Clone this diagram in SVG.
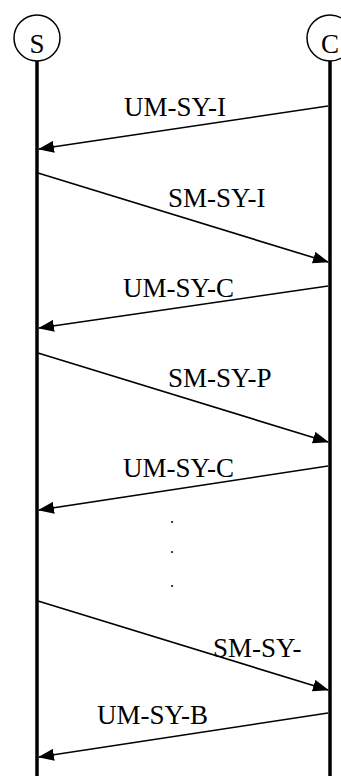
<svg xmlns="http://www.w3.org/2000/svg" width="341" height="776" viewBox="0 0 341 776">
  <style>
    .life { stroke: #000; stroke-width: 3.5; fill: none; }
    .head { fill: #fff; stroke: #000; stroke-width: 1.5; }
    .msg { stroke: #000; stroke-width: 1.6; fill: none; marker-end: url(#arrow); }
    text { font-family: "Liberation Serif", "Times New Roman", serif; fill: #000; }
    .lbl { font-size: 27px; }
    .dot { font-size: 16px; }
  </style>
  <defs>
    <marker id="arrow" markerUnits="userSpaceOnUse" markerWidth="16" markerHeight="12" refX="15" refY="6" orient="auto">
      <path d="M0,0 L16,6 L0,12 z" fill="#000"/>
    </marker>
  </defs>
  <rect width="341" height="776" fill="#fff"/>

  <!-- participants -->
  <g id="node-S">
    <line class="life" x1="37" y1="61" x2="37" y2="776"/>
    <circle class="head" cx="37" cy="38" r="23"/>
    <text class="lbl" x="37" y="53" text-anchor="middle">S</text>
  </g>
  <g id="node-C">
    <line class="life" x1="330" y1="61" x2="330" y2="776"/>
    <circle class="head" cx="330" cy="38" r="23"/>
    <text class="lbl" x="330" y="53" text-anchor="middle">C</text>
  </g>

  <!-- messages -->
  <g id="connectors">
    <line class="msg" x1="328" y1="106" x2="39" y2="149"/>
    <line class="msg" x1="38" y1="173" x2="328" y2="262"/>
    <line class="msg" x1="328" y1="286" x2="39" y2="328"/>
    <line class="msg" x1="38" y1="353" x2="328" y2="442"/>
    <line class="msg" x1="328" y1="466" x2="39" y2="510"/>
    <line class="msg" x1="38" y1="601" x2="328" y2="690"/>
    <line class="msg" x1="328" y1="713" x2="39" y2="757"/>
  </g>

  <g id="labels">
    <text class="lbl" x="124" y="116">UM-SY-I</text>
    <text class="lbl" x="168" y="207">SM-SY-I</text>
    <text class="lbl" x="123" y="297">UM-SY-C</text>
    <text class="lbl" x="168" y="387">SM-SY-P</text>
    <text class="lbl" x="123" y="477">UM-SY-C</text>
    <text class="lbl" x="213" y="657">SM-SY-</text>
    <text class="lbl" x="97" y="724">UM-SY-B</text>
  </g>

  <g id="ellipsis">
    <text class="dot" x="170" y="523">.</text>
    <text class="dot" x="170" y="553">.</text>
    <text class="dot" x="170" y="587">.</text>
  </g>
</svg>
